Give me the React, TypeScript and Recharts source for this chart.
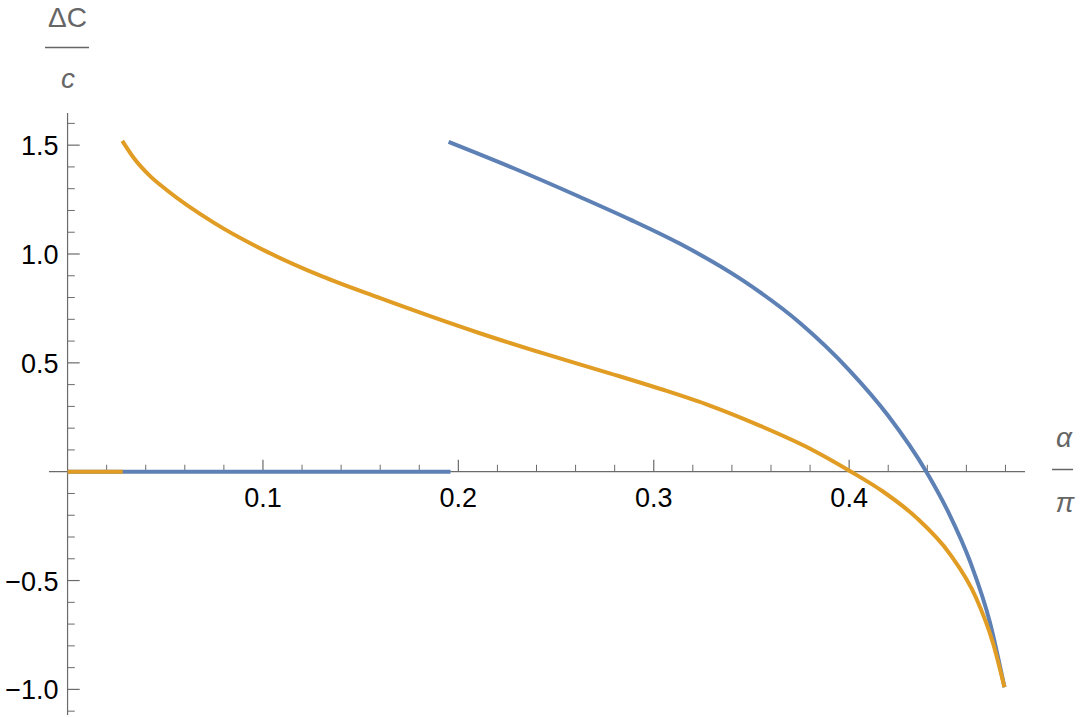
import { LineChart, Line, XAxis, YAxis, ReferenceLine, ReferenceDot } from 'recharts';

// curve samples (alpha/pi, deltaC/c)
const blueFlatX = [0, 0.196];
const blueFlatY = [0, 0];
const blueX = [0.195, 0.228, 0.262, 0.288, 0.313, 0.345, 0.375, 0.4, 0.42, 0.4395, 0.451, 0.462, 0.472, 0.4795];
const blueY = [1.515, 1.395, 1.263, 1.158, 1.049, 0.882, 0.682, 0.467, 0.257, 0, -0.19, -0.415, -0.69, -0.99];

const orangeFlatX = [0, 0.0282];
const orangeFlatY = [0, 0];
const orangeX = [0.028, 0.034, 0.042, 0.0507, 0.075, 0.1019, 0.13, 0.16, 0.211, 0.244, 0.2775, 0.3031, 0.3287, 0.3542, 0.3798, 0.401, 0.4173, 0.4344, 0.4514, 0.465, 0.4736, 0.4795];
const orangeY = [1.52, 1.44, 1.36, 1.294, 1.143, 1.011, 0.898, 0.797, 0.636, 0.542, 0.452, 0.381, 0.304, 0.212, 0.107, 0, -0.091, -0.211, -0.376, -0.58, -0.786, -0.99];

const xMajorTicks = [0.1, 0.2, 0.3, 0.4];
const xMinorTicks = [0.02, 0.04, 0.06, 0.08, 0.12, 0.14, 0.16, 0.18, 0.22, 0.24, 0.26, 0.28, 0.32, 0.34, 0.36, 0.38, 0.42, 0.44, 0.46, 0.48];
const yMajorTicks = [-1, -0.5, 0.5, 1, 1.5];
const yMinorTicks = [-1.1, -0.9, -0.8, -0.7, -0.6, -0.4, -0.3, -0.2, -0.1, 0.1, 0.2, 0.3, 0.4, 0.6, 0.7, 0.8, 0.9, 1.1, 1.2, 1.3, 1.4, 1.6];

const BLUE = '#5e81b5';
const ORANGE = '#e19c24';
const AXIS = '#6b6b6b';
const FONT = '"Liberation Sans", Arial, sans-serif';

// tick lengths in data units (~12px major, ~7px minor)
const X_MAJOR_LEN = 0.055;
const X_MINOR_LEN = 0.032;
const Y_MAJOR_LEN = 0.0062;
const Y_MINOR_LEN = 0.0037;

const zip = (xs: number[], ys: number[]) => xs.map((x, i) => ({ x, y: ys[i] }));

const fmt = (v: number) => (v < 0 ? '\u2212' + Math.abs(v).toFixed(1) : v.toFixed(1));

export default function App() {
  return (
    <div style={{ position: 'absolute', left: 0, top: 0, width: 1080, height: 717, background: '#fff' }}>
      <LineChart width={1080} height={717} margin={{ top: 113, right: 55, bottom: 2, left: 49 }}>
        <XAxis type="number" dataKey="x" domain={[-0.0095, 0.49]} allowDataOverflow hide />
        <YAxis type="number" dataKey="y" domain={[-1.1176, 1.6477]} allowDataOverflow hide />

        <ReferenceLine x={0} stroke={AXIS} strokeWidth={1.2} />
        <ReferenceLine y={0} stroke={AXIS} strokeWidth={1.2} />

        {xMajorTicks.map((t) => (
          <ReferenceLine key={'xM' + t} segment={[{ x: t, y: 0 }, { x: t, y: X_MAJOR_LEN }]} stroke={AXIS} strokeWidth={1.2} />
        ))}
        {xMinorTicks.map((t) => (
          <ReferenceLine key={'xm' + t} segment={[{ x: t, y: 0 }, { x: t, y: X_MINOR_LEN }]} stroke={AXIS} strokeWidth={1} />
        ))}
        {yMajorTicks.map((t) => (
          <ReferenceLine key={'yM' + t} segment={[{ x: 0, y: t }, { x: Y_MAJOR_LEN, y: t }]} stroke={AXIS} strokeWidth={1.2} />
        ))}
        {yMinorTicks.map((t) => (
          <ReferenceLine key={'ym' + t} segment={[{ x: 0, y: t }, { x: Y_MINOR_LEN, y: t }]} stroke={AXIS} strokeWidth={1} />
        ))}

        {xMajorTicks.map((t) => (
          <ReferenceDot
            key={'xl' + t}
            x={t}
            y={0}
            r={1}
            shape={(p: any) => (
              <text x={p.cx} y={p.cy + 35} textAnchor="middle" fontSize={27} fontFamily={FONT} fill="#000">
                {fmt(t)}
              </text>
            )}
          />
        ))}
        {yMajorTicks.map((t) => (
          <ReferenceDot
            key={'yl' + t}
            x={0}
            y={t}
            r={1}
            shape={(p: any) => (
              <text x={p.cx - 9} y={p.cy + 10} textAnchor="end" fontSize={27} fontFamily={FONT} fill="#000">
                {fmt(t)}
              </text>
            )}
          />
        ))}

        <Line data={zip(blueFlatX, blueFlatY)} dataKey="y" type="linear" stroke={BLUE} strokeWidth={4} dot={false} isAnimationActive={false} />
        <Line data={zip(blueX, blueY)} dataKey="y" type="monotone" stroke={BLUE} strokeWidth={4} dot={false} isAnimationActive={false} />
        <Line data={zip(orangeFlatX, orangeFlatY)} dataKey="y" type="linear" stroke={ORANGE} strokeWidth={4} dot={false} isAnimationActive={false} />
        <Line data={zip(orangeX, orangeY)} dataKey="y" type="monotone" stroke={ORANGE} strokeWidth={4} dot={false} isAnimationActive={false} />
      </LineChart>

      <svg width={1080} height={717} style={{ position: 'absolute', left: 0, top: 0, pointerEvents: 'none' }}>
        <g fill="#666" fontFamily={FONT} fontSize={28} textAnchor="middle">
          <text x={67.5} y={27}>ΔC</text>
          <line x1={45} x2={89} y1={47.5} y2={47.5} stroke="#666" strokeWidth={1.5} />
          <text x={68} y={88} fontStyle="italic">c</text>
          <text x={1064} y={447} fontStyle="italic">α</text>
          <line x1={1052} x2={1073} y1={469.5} y2={469.5} stroke="#666" strokeWidth={1.5} />
          <text x={1065} y={512} fontStyle="italic">π</text>
        </g>
      </svg>
    </div>
  );
}
